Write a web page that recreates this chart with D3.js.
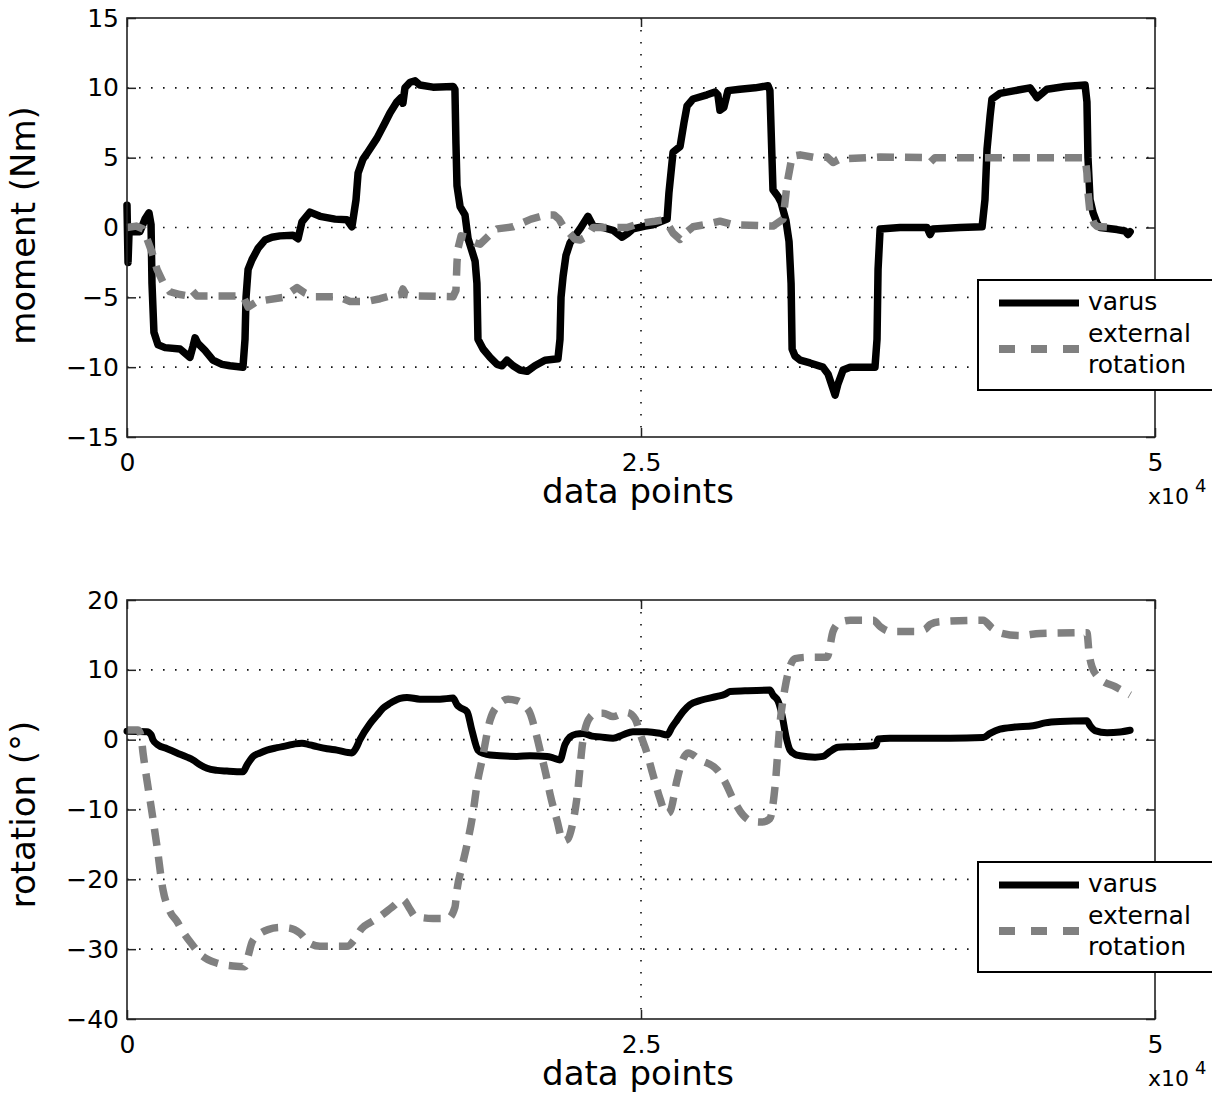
<!DOCTYPE html>
<html>
<head>
<meta charset="utf-8">
<script src="https://cdn.jsdelivr.net/npm/d3@7"></script>
<style>
  html, body { margin: 0; padding: 0; background: #fff; }
  svg { display: block; }
  text { font-family: "DejaVu Sans", sans-serif; fill: #000; }
</style>
</head>
<body>
<svg id="chart" width="1212" height="1095"></svg>
<script>
// ---------------- DATA ----------------
const xTicks = [0, 25000, 50000];
const xTickLabels = ["0", "2.5", "5"];
const momentTicks = [-15, -10, -5, 0, 5, 10, 15];
const rotationTicks = [-40, -30, -20, -10, 0, 10, 20];
const seriesNames = ["varus", "external rotation"];

// moment panel, varus (data point index, Nm)
const momentVarusX = [0,50,100,630,875,1070,1170,1215,1310,1510,1850,2580,3060,3210,3310,3450,3790,4180,4620,5010,5640,5740,5790,5890,6080,6370,6710,7050,7440,8070,8320,8510,8900,9390,10120,10700,10940,11140,11240,11480,11670,12160,12550,12790,13130,13330,13420,13520,13770,14010,14250,14880,15860,15950,16000,16050,16200,16440,16590,16930,17020,17070,17320,17660,18000,18240,18480,18780,19110,19460,19840,20330,20960,21060,21110,21210,21350,21550,21790,22030,22420,22670,23150,23640,24080,24370,24610,25200,25580,26270,26360,26560,26900,27090,27240,27530,28210,28600,28740,28840,29030,29230,29810,30550,31180,31270,31370,31420,31670,31810,32050,32200,32300,32350,32490,32740,33220,33850,34100,34440,34580,34830,35170,36380,36480,36530,36630,37600,38910,39060,39200,40520,41590,41730,41830,41980,42070,42460,43190,43920,44120,44260,44510,44750,45630,46600,46690,46740,46840,46990,47180,47330,48150,48540,48690,48790];
const momentVarusY = [1.6,-2.5,-0.3,-0.3,0.6,1.05,0.2,-4,-7.5,-8.4,-8.6,-8.7,-9.3,-8.5,-7.9,-8.3,-8.8,-9.5,-9.8,-9.9,-10.0,-8,-5,-3,-2.3,-1.5,-0.9,-0.7,-0.6,-0.55,-0.8,0.4,1.1,0.8,0.6,0.55,0.05,2.0,3.9,4.9,5.3,6.4,7.5,8.2,9.0,9.3,8.9,10.0,10.4,10.5,10.2,10.05,10.1,9.9,6,3,1.5,0.9,-0.8,-2.4,-4,-8,-8.7,-9.3,-9.8,-9.9,-9.5,-9.9,-10.2,-10.3,-9.9,-9.5,-9.4,-8,-5,-3.5,-2,-1.1,-0.6,-0.1,0.8,0.1,0.0,-0.2,-0.7,-0.4,-0.1,0.1,0.2,0.6,2.5,5.4,5.8,7.5,8.7,9.2,9.5,9.7,9.5,8.4,8.6,9.8,9.9,10.0,10.15,9.8,5,2.7,2.2,1.8,0.5,-1,-4,-8.7,-9.2,-9.5,-9.7,-10.0,-10.5,-12.0,-11.2,-10.2,-10.0,-10.0,-8,-3,-0.1,0.0,0.0,-0.5,-0.1,0.0,0.05,2.0,5.6,8.0,9.2,9.6,9.8,10.0,9.6,9.3,9.6,9.9,10.1,10.2,9.0,5,2,1.05,0.3,0.0,-0.15,-0.25,-0.5,-0.3];

// moment panel, external rotation
const momentExtX = [0,440,780,1020,1220,1460,1750,2090,2580,2970,3160,3400,4180,5640,5890,6320,7590,8270,8660,9050,10020,10360,10850,11670,12310,12790,13330,13420,13570,13910,15860,16000,16050,16100,16250,16540,16930,17170,17660,18000,18780,19650,20380,20770,21010,21210,21400,21790,22030,22420,22670,24320,24950,25680,26070,26320,26560,26900,27240,27530,28110,28840,29480,31420,31910,32110,32350,32740,33470,34050,34340,34680,36630,38820,39060,39300,42460,43920,44070,44260,46600,46690,46740,46840,47030,47180,48150];
const momentExtY = [0,0.1,-0.1,-1,-1.8,-3,-3.9,-4.6,-4.8,-4.9,-4.5,-4.9,-4.9,-4.9,-5.7,-5.3,-5.0,-4.3,-4.7,-4.95,-4.95,-5.0,-5.3,-5.3,-5.1,-4.9,-4.8,-4.4,-4.8,-4.9,-4.95,-4.5,-2.5,-1.5,-0.6,-0.7,-1.1,-1.2,-0.5,-0.1,0.05,0.6,0.9,0.9,0.6,0.1,-0.2,-0.85,-0.9,-0.6,0.0,0.0,0.3,0.45,0.55,0.2,-0.4,-0.85,-0.3,0.05,0.2,0.45,0.2,0.1,0.6,3.2,5.1,5.2,5.0,5.05,4.65,4.9,5.05,5.0,4.65,5.0,5.0,5.0,4.7,5.0,5.0,3.9,2.5,1.07,0.3,0.07,0.0];

// rotation panel, varus (degrees)
const rotVarusX = [0,970,1170,1260,1510,1950,2430,2920,3210,3550,3890,4380,4860,5640,5840,6130,6470,6810,7300,7780,8170,8510,8900,9240,9730,10210,10940,11140,11330,11820,12160,12450,12790,13030,13280,13620,14250,15220,15860,16050,16200,16540,16780,17070,17360,17660,18960,19600,20430,20720,21060,21300,21550,21840,22180,22620,23010,23640,24130,24610,25290,25930,26270,26510,26750,27040,27380,27870,28700,29080,29330,30060,31270,31420,31670,31860,32050,32250,32490,32740,33470,33850,34190,34580,35170,36140,36430,36530,37110,40030,41640,41980,42460,43190,44070,44650,45380,46690,46840,47080,47670,48300,48790];
const rotVarusY = [1.2,1.15,0.7,0.0,-0.76,-1.3,-1.9,-2.5,-2.9,-3.6,-4.1,-4.4,-4.5,-4.6,-3.6,-2.4,-1.9,-1.5,-1.15,-0.86,-0.6,-0.5,-0.75,-1.0,-1.3,-1.5,-1.9,-1.2,0.0,2.3,3.5,4.5,5.2,5.6,5.9,6.05,5.8,5.8,5.95,5.0,4.6,4.0,1.3,-1.5,-2.0,-2.2,-2.4,-2.3,-2.4,-2.6,-2.9,-0.7,0.4,0.8,0.9,0.5,0.4,0.2,0.7,1.15,1.15,0.9,0.67,1.8,2.8,4.0,5.0,5.6,6.2,6.5,6.9,7.0,7.1,6.4,5.5,3.5,0.5,-1.5,-2.1,-2.3,-2.5,-2.4,-1.7,-1.1,-1.0,-0.9,-0.8,0.1,0.2,0.2,0.3,0.9,1.5,1.8,2.0,2.4,2.6,2.7,2.0,1.3,1.0,1.1,1.35];

// rotation panel, external rotation
const rotExtX = [0,540,680,780,970,1220,1460,1750,2090,2430,2720,3160,3550,3940,4380,5160,5740,5890,6080,6370,6860,7440,7930,8410,8900,9390,10700,11090,11430,11820,12310,12890,13420,13770,14010,14880,15610,15950,16050,16290,16540,16830,17020,17270,17660,18140,18530,18960,19360,19600,19840,20090,20380,20570,20910,21210,21450,21640,21890,22180,22520,22860,23150,23640,23980,24320,24710,25000,25290,25580,25930,26220,26410,26750,27040,27290,27870,28700,29080,29480,29960,30400,30880,31270,31520,31760,32010,32250,32490,33080,34050,34340,34680,35170,36290,36630,37110,38420,38820,39060,39550,41640,42070,42460,43430,44410,46690,46790,46930,47330,48060,48790];
const rotExtY = [1.4,1.4,0.5,-1.9,-5.8,-10.5,-15.3,-21.5,-24.6,-26.0,-27.5,-29.3,-30.7,-31.5,-32.0,-32.4,-32.5,-31.0,-29.0,-28.0,-27.2,-26.9,-27.0,-27.7,-29.2,-29.6,-29.6,-28.5,-27.0,-26.2,-25.3,-24.0,-22.9,-24.3,-25.3,-25.6,-25.6,-24.0,-21.5,-18.2,-15,-10.5,-6.5,-2.9,2.8,5.2,5.8,5.6,4.8,3.8,1.5,-1.5,-5,-7.7,-11.5,-14.5,-14.2,-12.5,-8.2,0.0,3.2,3.8,3.8,3.3,3.6,3.9,3.0,0.5,-1.9,-5,-8.5,-10.6,-10.3,-5.8,-2.8,-1.9,-2.9,-4.3,-6.0,-8.5,-10.8,-11.7,-11.8,-11.3,-6.7,2.3,7.5,10.5,11.6,11.8,11.8,15.5,16.8,17.1,17.1,16.2,15.5,15.5,15.8,16.5,16.9,17.1,16.0,15.3,14.9,15.2,15.3,12.5,10.5,8.7,7.6,6.4];

// ---------------- DRAWING ----------------
const svg = d3.select("#chart");
const FONT = "DejaVu Sans, sans-serif";
const left = 127, right = 1155;
const x = d3.scaleLinear().domain([0, 50000]).range([left, right]);

const panels = [
  { top: 18, bottom: 437, domain: [-15, 15], ticks: momentTicks, label: "moment (Nm)", labelDy: -2,
    varus: [momentVarusX, momentVarusY], ext: [momentExtX, momentExtY], curve: d3.curveLinear, vw: 7.5 },
  { top: 600, bottom: 1019, domain: [-40, 20], ticks: rotationTicks, label: "rotation (°)", labelDy: 5,
    varus: [rotVarusX, rotVarusY], ext: [rotExtX, rotExtY], curve: d3.curveMonotoneX, vw: 7 }
];

const fmtY = v => (v < 0 ? "\u2212" + Math.abs(v) : String(v));

panels.forEach(p => {
  const y = d3.scaleLinear().domain(p.domain).range([p.bottom, p.top]);
  const g = svg.append("g");

  // gridlines (dotted)
  const grid = g.append("g").attr("stroke", "#111").attr("stroke-width", 1.6)
    .attr("stroke-dasharray", "1.6,10.4");
  p.ticks.filter(t => t !== p.domain[0] && t !== p.domain[1]).forEach(t => {
    grid.append("line").attr("x1", left).attr("x2", right)
      .attr("y1", y(t)).attr("y2", y(t));
  });
  xTicks.filter(t => t !== 0 && t !== 50000).forEach(t => {
    grid.append("line").attr("x1", x(t)).attr("x2", x(t))
      .attr("y1", p.top).attr("y2", p.bottom);
  });

  // axes (inward ticks)
  const axL = g.append("g").attr("transform", `translate(${left},0)`)
    .call(d3.axisLeft(y).tickValues(p.ticks).tickSize(-9).tickPadding(8).tickFormat(fmtY));
  const axR = g.append("g").attr("transform", `translate(${right},0)`)
    .call(d3.axisRight(y).tickValues(p.ticks).tickSize(-9).tickFormat(""));
  const axB = g.append("g").attr("transform", `translate(0,${p.bottom})`)
    .call(d3.axisBottom(x).tickValues(xTicks).tickSize(-9).tickPadding(16)
      .tickFormat((d, i) => xTickLabels[i]));
  const axT = g.append("g").attr("transform", `translate(0,${p.top})`)
    .call(d3.axisTop(x).tickValues(xTicks).tickSize(-9).tickFormat(""));
  [axL, axR, axB, axT].forEach(a => {
    a.select(".domain").remove();
    a.selectAll(".tick line").attr("stroke", "#222").attr("stroke-width", 1.5);
    a.selectAll("text").attr("font-family", FONT).attr("font-size", 25).attr("fill", "#000");
  });

  // series
  const line = d3.line().x(d => x(d[0])).y(d => y(d[1])).curve(p.curve);
  const varusData = p.varus[0].map((v, i) => [v, p.varus[1][i]]);
  const extData = p.ext[0].map((v, i) => [v, p.ext[1][i]]);
  g.append("path").datum(varusData).attr("d", line)
    .attr("fill", "none").attr("stroke", "#000").attr("stroke-width", p.vw)
    .attr("stroke-linejoin", "round").attr("stroke-linecap", "round");
  g.append("path").datum(extData).attr("d", line)
    .attr("fill", "none").attr("stroke", "#808080").attr("stroke-width", 7.5)
    .attr("stroke-dasharray", "17,11").attr("stroke-linejoin", "round");

  // frame
  g.append("rect").attr("x", left).attr("y", p.top)
    .attr("width", right - left).attr("height", p.bottom - p.top)
    .attr("fill", "none").attr("stroke", "#222").attr("stroke-width", 1.6);

  // axis labels
  g.append("text").attr("transform", `translate(35,${(p.top + p.bottom) / 2 + p.labelDy}) rotate(-90)`)
    .attr("text-anchor", "middle").attr("font-size", 34).text(p.label);
  g.append("text").attr("x", 638).attr("y", p.bottom + 66)
    .attr("text-anchor", "middle").attr("font-size", 34).text("data points");
  g.append("text").attr("x", 1148).attr("y", p.bottom + 67).attr("font-size", 22).text("x10");
  g.append("text").attr("x", 1195).attr("y", p.bottom + 55).attr("font-size", 18).text("4");

  // legend
  const ly = p.top + 262;
  const lg = g.append("g");
  lg.append("rect").attr("x", 978).attr("y", ly).attr("width", 260).attr("height", 110)
    .attr("fill", "#fff").attr("stroke", "#000").attr("stroke-width", 2);
  lg.append("line").attr("x1", 999).attr("x2", 1079).attr("y1", ly + 23).attr("y2", ly + 23)
    .attr("stroke", "#000").attr("stroke-width", 7);
  lg.append("line").attr("x1", 999).attr("x2", 1079).attr("y1", ly + 69).attr("y2", ly + 69)
    .attr("stroke", "#808080").attr("stroke-width", 8).attr("stroke-dasharray", "16,16");
  lg.append("text").attr("x", 1088).attr("y", ly + 30).attr("font-size", 25).text(seriesNames[0]);
  lg.append("text").attr("x", 1088).attr("y", ly + 62).attr("font-size", 25).text("external");
  lg.append("text").attr("x", 1088).attr("y", ly + 93).attr("font-size", 25).text("rotation");
});
</script>
</body>
</html>
